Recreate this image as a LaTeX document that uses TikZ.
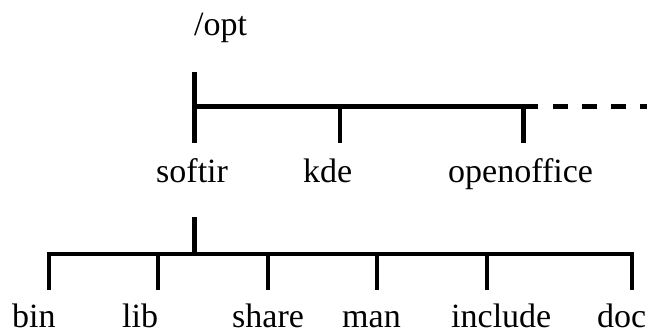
\documentclass[tikz,border=0pt]{standalone}
\usepackage{fontspec}
\setmainfont{Liberation Serif}
\begin{document}
\begin{tikzpicture}[x=1pt,y=-1pt,
  lbl/.style={anchor=base west,inner sep=0pt,font=\fontsize{34}{40}\selectfont},
  branch/.style={line width=4.5pt,line cap=butt,line join=miter},
  more/.style={line width=4.5pt,dash pattern=on 15pt off 14pt}]
\useasboundingbox (0,0) rectangle (647,332);
% labels
\node[lbl] (opt) at (194,35) {/opt};
\node[lbl] (softir) at (156,182) {softir};
\node[lbl] (kde) at (303,182) {kde};
\node[lbl] (openoffice) at (448,182) {openoffice};
\node[lbl] (bin) at (12,327) {bin};
\node[lbl] (lib) at (122,327) {lib};
\node[lbl] (share) at (232,327) {share};
\node[lbl] (man) at (342,327) {man};
\node[lbl] (include) at (451,327) {include};
\node[lbl] (doc) at (597,327) {doc};
% top level coordinates
\coordinate (optroot) at (194.5,72);
\coordinate (topbar) at (194.5,106.5);
\coordinate (softirend) at (194.5,143);
\coordinate (kdebar) at (340,106.5);
\coordinate (kdeend) at (340,143);
\coordinate (oobar) at (523.5,106.5);
\coordinate (ooend) at (523.5,143);
\coordinate (barend) at (538,106.5);
\coordinate (dashstart) at (553,106.5);
\coordinate (dashend) at (660,106.5);
\draw[branch] (optroot) -- (softirend);
\draw[branch] (topbar) -- (barend);
\draw[branch] (kdebar) -- (kdeend);
\draw[branch] (oobar) -- (ooend);
\begin{scope}
\clip (0,0) rectangle (647,332);
\draw[more] (dashstart) -- (dashend);
\end{scope}
% second level coordinates
\coordinate (softirroot) at (194.5,217);
\coordinate (softirbar) at (194.5,254);
\coordinate (binend) at (49,290);
\coordinate (binbar) at (49,254);
\coordinate (libbar) at (158,254);
\coordinate (libend) at (158,290);
\coordinate (sharebar) at (268,254);
\coordinate (shareend) at (268,290);
\coordinate (manbar) at (377,254);
\coordinate (manend) at (377,290);
\coordinate (incbar) at (487,254);
\coordinate (incend) at (487,290);
\coordinate (docbar) at (632,254);
\coordinate (docend) at (632,290);
\draw[branch] (softirroot) -- (softirbar);
\draw[branch] (binend) -- (binbar) -- (docbar) -- (docend);
\draw[branch] (libbar) -- (libend);
\draw[branch] (sharebar) -- (shareend);
\draw[branch] (manbar) -- (manend);
\draw[branch] (incbar) -- (incend);
\end{tikzpicture}
\end{document}
